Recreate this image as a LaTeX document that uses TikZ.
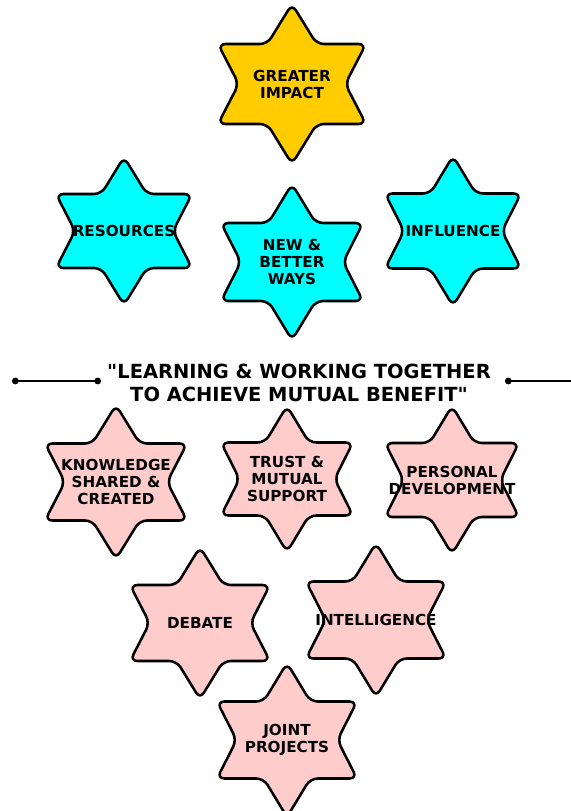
\documentclass[tikz,border=0pt]{standalone}
\usepackage{fontspec}
\newfontfamily\boldsans{DejaVu Sans}
\usetikzlibrary{arrows.meta}
\definecolor{impactgold}{HTML}{FFCC00}
\definecolor{wayscyan}{HTML}{00FFFF}
\definecolor{benefitpink}{HTML}{FFCCCC}
\tikzstyle{hexstar}=[draw=black, line width=1.9pt, rounded corners=5.5pt, line join=round]
\tikzstyle{startext}=[font=\boldsans\bfseries\fontsize{11.4}{12.8}\selectfont, align=center, inner sep=0pt]
\tikzstyle{motto}=[font=\boldsans\bfseries\fontsize{14.6}{17.4}\selectfont, align=center, inner sep=0pt]
\tikzstyle{rule}=[line width=1.5pt]

\begin{document}
\begin{tikzpicture}[x=0.75pt, y=-0.75pt]
  \useasboundingbox (0,0) rectangle (571,811);
  % six-pointed stars: name/x/y/half width/half height/colour/text
  \foreach \name/\x/\y/\w/\h/\col/\txt in {
      impact/292/84/74/80/impactgold/{GREATER\\IMPACT},
      resources/124/231/68/74/wayscyan/RESOURCES,
      ways/292/262/71/78/wayscyan/{NEW \&\\BETTER\\WAYS},
      influence/453/231/68/75/wayscyan/INFLUENCE,
      knowledge/116/482/71/77/benefitpink/{KNOWLEDGE\\SHARED \&\\CREATED},
      trust/287/479/66/73/benefitpink/{TRUST \&\\MUTUAL\\SUPPORT},
      personal/452/480/67/74/benefitpink/{PERSONAL\\DEVELOPMENT},
      debate/200/623/70/76/benefitpink/DEBATE,
      intelligence/376/620/70/77/benefitpink/INTELLIGENCE,
      projects/287/740/70/77/benefitpink/{JOINT\\PROJECTS}}
  {
    \draw[hexstar, fill=\col]
      (\x,\y-\h) -- (\x+\w/3,\y-\h/2) -- (\x+\w,\y-\h/2)
      -- (\x+0.72*\w,\y) -- (\x+\w,\y+\h/2) -- (\x+\w/3,\y+\h/2)
      -- (\x,\y+\h) -- (\x-\w/3,\y+\h/2) -- (\x-\w,\y+\h/2)
      -- (\x-0.72*\w,\y) -- (\x-\w,\y-\h/2) -- (\x-\w/3,\y-\h/2)
      -- cycle;
    \node[startext] (\name) at (\x,\y) {\txt};
  }

  \node[motto] (motto) at (299,383)
    {"LEARNING \& WORKING TOGETHER\\TO ACHIEVE MUTUAL BENEFIT"};

  \coordinate (leftA) at (12,381);
  \coordinate (leftB) at (101,381);
  \coordinate (rightA) at (505,381);
  \coordinate (rightB) at (571,381);
  \draw[rule, {Circle[length=5pt]}-{Circle[length=5pt]}] (leftA) -- (leftB);
  \draw[rule, {Circle[length=5pt]}-] (rightA) -- (rightB);
\end{tikzpicture}
\end{document}
